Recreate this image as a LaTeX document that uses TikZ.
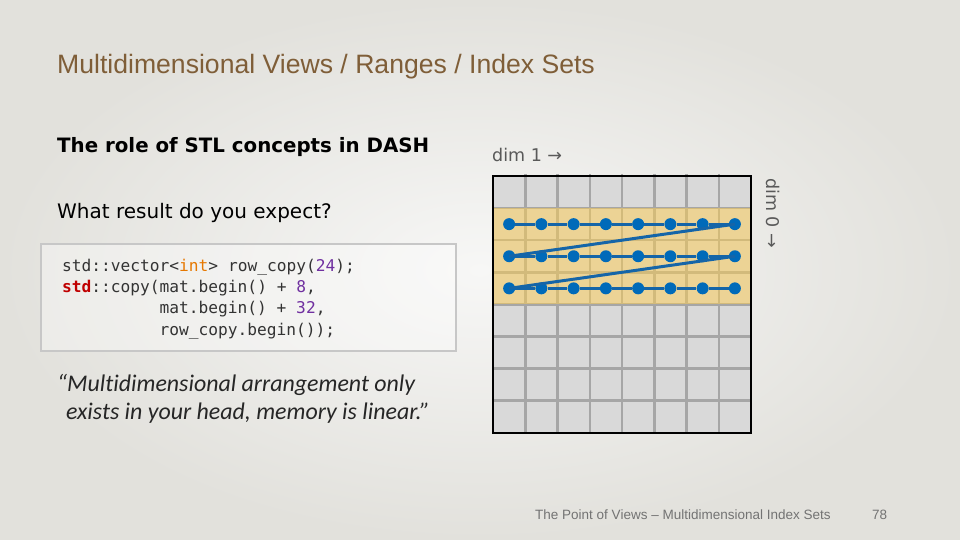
\documentclass[tikz,border=0pt]{standalone}
\usepackage{fontspec}
\setmainfont{DejaVu Sans}
\setmonofont{DejaVu Sans Mono}
\newfontfamily\titlefont{Liberation Sans}
\newfontfamily\quotefont[Ligatures=NoCommon]{Carlito}
\usetikzlibrary{arrows.meta,calc,positioning}

\definecolor{titlebrown}{RGB}{127,94,56}
\definecolor{cellgray}{RGB}{217,217,217}
\definecolor{linegray}{RGB}{166,166,166}
\definecolor{hilite}{RGB}{255,207,82}
\definecolor{dotblue}{RGB}{0,106,185}
\definecolor{linkblue}{RGB}{21,101,168}
\definecolor{codetext}{RGB}{51,51,51}
\definecolor{codekey}{RGB}{230,120,0}
\definecolor{codenum}{RGB}{112,48,160}
\definecolor{codens}{RGB}{192,0,0}
\definecolor{labelgray}{RGB}{89,89,89}

\begin{document}
\begin{tikzpicture}[
  x=1pt, y=-1pt,
  heading/.style={anchor=west, inner sep=0pt},
  codeline/.style={anchor=base west, inner sep=0pt, text=codetext,
                   font=\ttfamily\fontsize{16.2}{20}\selectfont},
  dimlabel/.style={font=\fontsize{17.5}{20}\selectfont, text=labelgray, inner sep=0pt},
  dot/.style={circle, fill=dotblue, minimum size=12pt, inner sep=0pt},
  link/.style={linkblue, line width=3pt},
  footer/.style={font=\titlefont\fontsize{13.5}{15}\selectfont, text=black!55, inner sep=0pt},
]

% ===== Background =====
\useasboundingbox (0,0) rectangle (960,540);
\shade[inner color={rgb,255:red,247;green,247;blue,246}, outer color={rgb,255:red,226;green,225;blue,220}]
  (0,0) rectangle (960,540);

% ===== Title =====
\node[heading, font=\titlefont\fontsize{26.6}{30}\selectfont, text=titlebrown] (title) at (57,67)
  {Multidimensional Views / Ranges / Index Sets};

% ===== Left column =====
\node[heading, font=\bfseries\fontsize{19.8}{22}\selectfont] (sub) at (57,147) {The role of STL concepts in DASH};
\node[heading, font=\fontsize{20}{22}\selectfont] (ask) at (57,213) {What result do you expect?};

\node[draw=black!22, line width=2pt, fill=white, fill opacity=0.35, text opacity=1,
      minimum width=415pt, minimum height=107pt, anchor=north west] (codebox) at (40,243) {};
\node[codeline] (code1) at (62,271) {std::vector<\textcolor{codekey}{int}> row\_copy(\textcolor{codenum}{24});};
\node[codeline] (code2) at (62,292.5) {\textcolor{codens}{\bfseries std}::copy(mat.begin() + \textcolor{codenum}{8},};
\node[codeline] (code3) at (159.5,313.8) {mat.begin() + \textcolor{codenum}{32},};
\node[codeline] (code4) at (159.5,335) {row\_copy.begin());};

\node[anchor=north west, align=left, inner sep=0pt, text=black!85,
      font=\quotefont\itshape\fontsize{23.9}{28.5}\selectfont] (quote) at (57,374)
  {“Multidimensional arrangement only\\
   \hspace*{9pt}exists in your head, memory is linear.”};

% ===== Matrix =====
\fill[cellgray] (493,176) rectangle (751,433);
\foreach \k in {1,...,7} {
  \draw[linegray, line width=2.5pt] ({493+\k*32.25},174) -- ({493+\k*32.25},433);
  \draw[linegray, line width=2.5pt] (493,{176+\k*32.1}) -- (751,{176+\k*32.1});
}
\fill[hilite, fill opacity=0.5] (493,208.1) rectangle (752,304.4);
\draw[black, line width=2.5pt] (493,176) rectangle (751,433);

\node[dimlabel, anchor=west] (dim1) at (492,155) {dim 1 →};
\node[dimlabel, rotate=-90] (dim0) at (773,213) {dim 0 →};

% dots of the copied rows
\foreach \r in {1,2,3}
  \foreach \c in {1,...,8}
    \node[dot] (d\r-\c) at ({493+(\c-0.5)*32.25},{176+(\r+0.5)*32.1}) {};

\foreach \r in {1,2,3}
  \foreach \c [count=\n from 2] in {1,...,7}
    \draw[link] (d\r-\c) -- (d\r-\n);
\draw[link] (d1-8.center) -- (d2-1.center);
\draw[link] (d2-8.center) -- (d3-1.center);

% ===== Footer =====
\node[footer, anchor=west] (foot) at (535,515) {The Point of Views – Multidimensional Index Sets};
\node[footer, anchor=west] (page) at (872,515) {78};

\end{tikzpicture}
\end{document}
